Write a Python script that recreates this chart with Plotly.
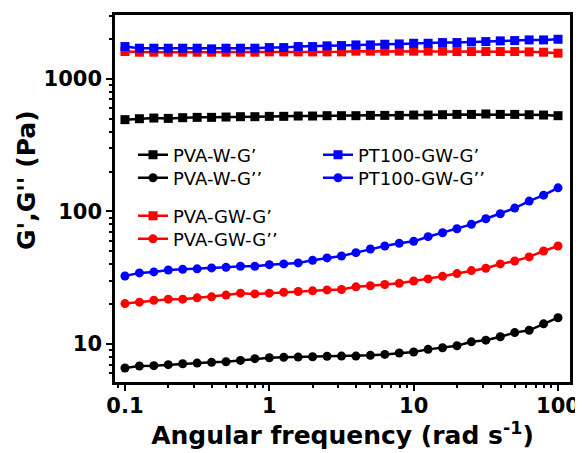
import plotly.graph_objects as go

# Angular frequency (rad/s), 10 points per decade from 0.1 to 100
freq = [0.1, 0.1259, 0.1585, 0.1995, 0.2512, 0.3162, 0.3981, 0.5012, 0.631, 0.7943,
        1.0, 1.259, 1.585, 1.995, 2.512, 3.162, 3.981, 5.012, 6.31, 7.943,
        10.0, 12.59, 15.85, 19.95, 25.12, 31.62, 39.81, 50.12, 63.1, 79.43, 100.0]

pva_w_g1 = [492, 500, 506, 503, 509, 512, 512, 515, 518, 518,
            521, 521, 524, 524, 527, 527, 527, 530, 530, 530,
            533, 533, 536, 539, 539, 543, 539, 539, 536, 533, 527]
pva_w_g2 = [6.60, 6.83, 6.87, 6.99, 7.11, 7.19, 7.28, 7.36, 7.53, 7.76,
            7.89, 7.94, 7.98, 8.03, 8.08, 8.12, 8.12, 8.22, 8.36, 8.56,
            8.71, 9.12, 9.38, 9.71, 10.4, 10.7, 11.35, 12.2, 12.7, 14.2, 15.8]
pva_gw_g1 = [1605, 1587, 1587, 1587, 1587, 1587, 1587, 1587, 1587, 1587,
             1596, 1596, 1596, 1596, 1596, 1596, 1615, 1615, 1615, 1615,
             1615, 1615, 1615, 1605, 1605, 1605, 1605, 1605, 1596, 1587, 1560]
pva_gw_g2 = [20.2, 20.7, 21.4, 21.8, 21.8, 22.3, 22.7, 23.4, 24.2, 23.9,
             24.2, 24.6, 24.9, 25.2, 25.6, 25.8, 27.0, 27.5, 28.1, 28.7,
             29.9, 31.0, 32.4, 34.0, 35.8, 37.3, 40.2, 42.3, 45.4, 50.3, 54.9]
pt100_gw_g1 = [1750, 1701, 1701, 1701, 1701, 1701, 1681, 1701, 1701, 1701,
               1720, 1720, 1750, 1750, 1771, 1781, 1801, 1801, 1822, 1832,
               1853, 1853, 1875, 1875, 1897, 1908, 1931, 1942, 1964, 1964, 1987]
pt100_gw_g2 = [32.6, 34.4, 35.0, 36.2, 36.6, 36.9, 37.5, 37.9, 38.6, 38.6,
               39.7, 40.2, 40.9, 42.8, 44.6, 46.1, 48.9, 52.1, 54.9, 57.5,
               59.5, 64.5, 69.1, 74.1, 79.9, 88.1, 96.0, 106, 119.6, 132.7, 150.7]

names = ["PVA-W-G’", "PVA-W-G’’", "PVA-GW-G’", "PVA-GW-G’’", "PT100-GW-G’", "PT100-GW-G’’"]
series = [pva_w_g1, pva_w_g2, pva_gw_g1, pva_gw_g2, pt100_gw_g1, pt100_gw_g2]
colors = ["#000000", "#000000", "#ff0000", "#ff0000", "#0000ff", "#0000ff"]
symbols = ["square", "circle", "square", "circle", "square", "circle"]
legend_ids = ["legend", "legend2", "legend3", "legend4", "legend5", "legend6"]

x_tickvals = [0.1, 1, 10, 100]
x_ticktext = ["0.1", "1", "10", "100"]
y_tickvals = [10, 100, 1000]
y_ticktext = ["10", "100", "1000"]
x_title = "Angular frequency (rad s<sup>-1</sup>)"
y_title = "G',G'' (Pa)"

fig = go.Figure()
for nm, ys, c, s, lg in zip(names, series, colors, symbols, legend_ids):
    fig.add_trace(go.Scatter(
        x=freq, y=ys, name=nm, mode="lines+markers",
        line=dict(color=c, width=2.5),
        marker=dict(symbol=s, size=9, color=c),
        legend=lg,
    ))

OFF = 8  # page body margin
W, H = 583 - OFF, 453 - OFF
L, R, T, B = 107, 13, 7, 71
pw, ph = W - L - R, H - T - B

def px2x(px):
    return (px - OFF - L) / pw

def py2y(py):
    return (H - B - (py - OFF)) / ph

legend_font = dict(family="DejaVu Sans", size=18, color="black")
leg_pos = {
    "legend": (133, 155),
    "legend2": (133, 178),
    "legend3": (133, 216),
    "legend4": (133, 239),
    "legend5": (318, 155),
    "legend6": (318, 178),
}
legends = {}
for k, (lx, ly) in leg_pos.items():
    legends[k] = dict(x=px2x(lx), y=py2y(ly), xanchor="left", yanchor="middle",
                      bgcolor="rgba(0,0,0,0)", borderwidth=0, font=legend_font,
                      itemclick=False)

axis_font = dict(family="DejaVu Sans", size=25, color="black", weight="bold")
tick_font = dict(family="DejaVu Sans", size=21, color="black", weight="bold")

fig.update_layout(
    width=W, height=H,
    margin=dict(l=L, r=R, t=T, b=B, autoexpand=False),
    paper_bgcolor="white", plot_bgcolor="white",
    showlegend=True,
    **legends,
    xaxis=dict(
        type="log", range=[-1.069, 2.083], automargin=False,
        tickvals=x_tickvals, ticktext=x_ticktext,
        ticks="outside", ticklen=6, tickwidth=2, tickcolor="black",
        ticklabelstandoff=-3,
        minor=dict(ticks="outside", ticklen=3, tickwidth=1.5, tickcolor="black",
                   dtick="D1", showgrid=False),
        showline=True, linewidth=2.5, linecolor="black", mirror=True,
        showgrid=False, zeroline=False,
        tickfont=tick_font,
        title=dict(text=x_title, font=axis_font, standoff=0),
    ),
    yaxis=dict(
        type="log", range=[0.714, 3.481], automargin=False,
        tickvals=y_tickvals, ticktext=y_ticktext,
        ticks="outside", ticklen=6, tickwidth=2, tickcolor="black",
        minor=dict(ticks="outside", ticklen=3, tickwidth=1.5, tickcolor="black",
                   dtick="D1", showgrid=False),
        showline=True, linewidth=2.5, linecolor="black", mirror=True,
        showgrid=False, zeroline=False,
        tickfont=tick_font,
    ),
    annotations=[dict(
        text=y_title, textangle=-90, xref="paper", yref="paper",
        x=px2x(26), y=py2y(180), xanchor="center", yanchor="middle",
        showarrow=False, font=axis_font,
    )],
)

fig.write_html("out.html")
